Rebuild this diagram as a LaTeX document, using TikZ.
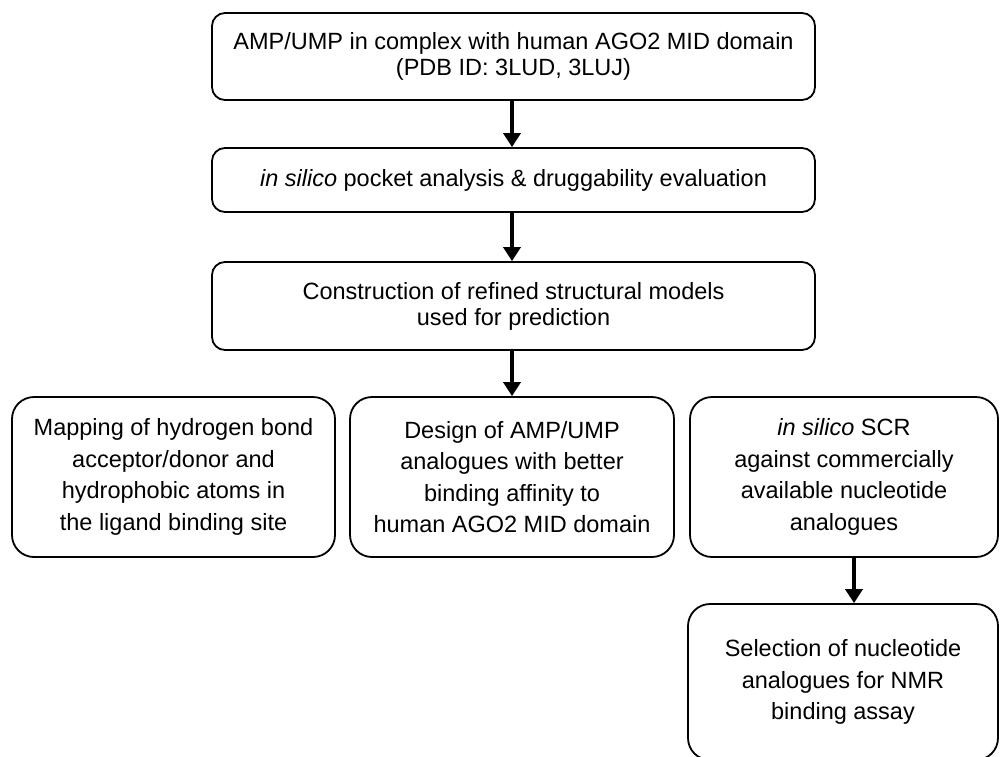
\documentclass[tikz,border=0pt]{standalone}
\usepackage{fontspec}
\setmainfont{Liberation Sans}
\usetikzlibrary{arrows.meta}
\begin{document}
\begin{tikzpicture}[x=1pt,y=-1pt,
  box/.style={draw=black, line width=1.8pt, rounded corners=13pt, align=center, inner sep=0pt},
  lowbox/.style={box, rounded corners=22pt, minimum height=160pt},
  toptext/.style={font=\fontsize{23.5}{26}\selectfont},
  lowtext/.style={font=\fontsize{23.5}{31.5}\selectfont},
  arr/.style={line width=3.8pt, -{Triangle[width=17pt,length=14pt]}}]
\useasboundingbox (0,0) rectangle (1000,756);
\fill[white] (0,0) rectangle (1000,756);
\node[box, toptext, minimum width=603pt, minimum height=87pt] (a) at (513.5,56.5)
  {AMP/UMP in complex with human AGO2 MID domain\\(PDB ID: 3LUD, 3LUJ)};
\node[box, toptext, minimum width=603pt, minimum height=64pt] (b) at (513.5,180)
  {\textit{in silico} pocket analysis \& druggability evaluation};
\node[box, toptext, minimum width=603pt, minimum height=88pt] (c) at (513.5,306)
  {Construction of refined structural models\\used for prediction};
\node[lowbox, lowtext, minimum width=323pt] (d) at (173.5,477)
  {Mapping of hydrogen bond\\acceptor/donor and\\hydrophobic atoms in\\the ligand binding site};
\node[lowbox, lowtext, minimum width=324pt] (e) at (512,477)
  {Design of AMP/UMP\\analogues with better\\binding affinity to\\human AGO2 MID domain};
\node[lowbox, lowtext, minimum width=308pt] (f) at (844,477)
  {\textit{in silico} SCR\\against commercially\\available nucleotide\\analogues};
\node[lowbox, lowtext, minimum width=310pt, minimum height=156pt] (g) at (843,682)
  {Selection of nucleotide\\analogues for NMR\\binding assay};
\draw[arr] ([xshift=-1.5pt]a.south) -- ([xshift=-1.5pt]b.north);
\draw[arr] ([xshift=-1.5pt]b.south) -- ([xshift=-1.5pt]c.north);
\draw[arr] ([xshift=-1.5pt]c.south) -- (e.north);
\draw[arr] ([xshift=10pt]f.south) -- ([xshift=10pt]f.south |- g.north);
\end{tikzpicture}
\end{document}
